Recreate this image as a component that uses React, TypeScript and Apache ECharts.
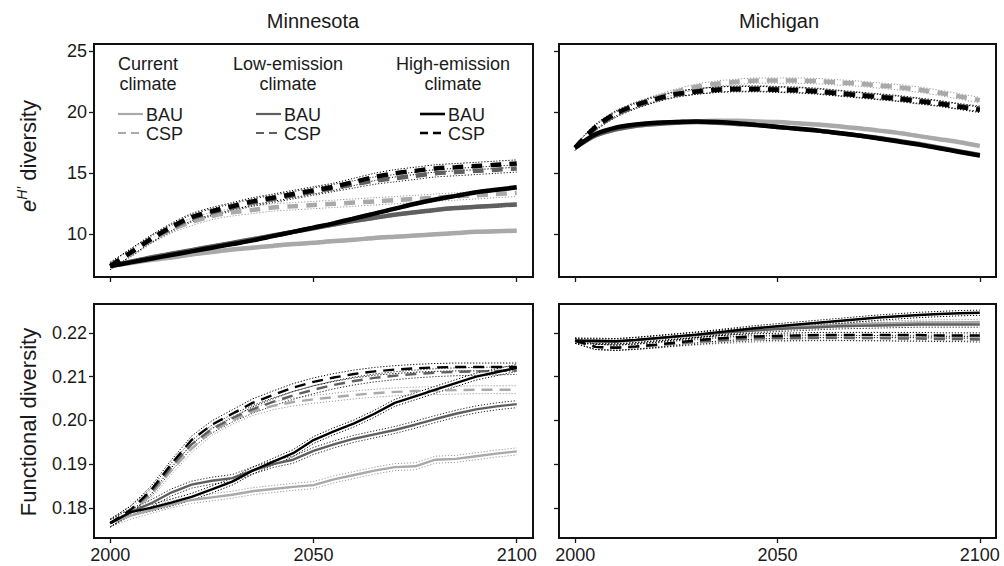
import React, { useEffect, useRef } from "react";
import * as echarts from "echarts";

// ---------- data ----------
const years = [2000, 2005, 2010, 2015, 2020, 2025, 2030, 2035, 2040, 2045, 2050, 2055, 2060, 2065, 2070, 2075, 2080, 2085, 2090, 2095, 2100];
const xTicks = [2000, 2050, 2100];
const shannonTicks = [10, 15, 20, 25];
const functionalTicks = [0.18, 0.19, 0.2, 0.21, 0.22];

// Minnesota, e^H' diversity
const mnShCurBAU = [7.4, 7.65, 7.9, 8.1, 8.35, 8.55, 8.75, 8.9, 9.05, 9.2, 9.3, 9.45, 9.55, 9.7, 9.8, 9.9, 10.0, 10.1, 10.2, 10.25, 10.3];
const mnShCurCSP = [7.4, 8.4, 9.5, 10.4, 11.0, 11.5, 11.8, 12.0, 12.2, 12.3, 12.4, 12.5, 12.6, 12.7, 12.8, 12.9, 13.0, 13.1, 13.2, 13.3, 13.4];
const mnShLowBAU = [7.4, 7.75, 8.1, 8.4, 8.7, 9.0, 9.3, 9.6, 9.9, 10.2, 10.5, 10.8, 11.1, 11.35, 11.6, 11.8, 12.0, 12.15, 12.25, 12.35, 12.45];
const mnShLowCSP = [7.4, 8.5, 9.6, 10.5, 11.3, 11.8, 12.2, 12.6, 12.9, 13.2, 13.5, 13.8, 14.1, 14.4, 14.6, 14.8, 15.0, 15.1, 15.2, 15.3, 15.4];
const mnShHighBAU = [7.4, 7.7, 8.0, 8.3, 8.6, 8.9, 9.2, 9.5, 9.85, 10.2, 10.55, 10.9, 11.3, 11.7, 12.1, 12.5, 12.85, 13.15, 13.45, 13.65, 13.85];
const mnShHighCSP = [7.4, 8.5, 9.6, 10.6, 11.4, 11.9, 12.3, 12.7, 13.0, 13.3, 13.6, 13.9, 14.3, 14.7, 15.0, 15.2, 15.4, 15.5, 15.6, 15.7, 15.8];

// Michigan, e^H' diversity
const miShCurBAU = [17.1, 18.1, 18.6, 18.9, 19.05, 19.2, 19.25, 19.3, 19.3, 19.25, 19.2, 19.1, 19.0, 18.85, 18.7, 18.5, 18.3, 18.05, 17.8, 17.55, 17.25];
const miShCurCSP = [17.1, 18.7, 19.8, 20.6, 21.2, 21.7, 22.1, 22.35, 22.5, 22.6, 22.6, 22.6, 22.55, 22.45, 22.35, 22.2, 22.05, 21.85, 21.6, 21.3, 21.0];
const miShLowBAU = [17.1, 18.1, 18.6, 18.9, 19.05, 19.15, 19.2, 19.15, 19.05, 18.95, 18.8, 18.65, 18.5, 18.3, 18.1, 17.9, 17.65, 17.4, 17.1, 16.8, 16.5];
const miShLowCSP = [17.1, 18.7, 19.8, 20.5, 21.05, 21.45, 21.7, 21.85, 21.95, 21.95, 21.9, 21.85, 21.75, 21.6, 21.45, 21.3, 21.15, 20.95, 20.75, 20.5, 20.3];
const miShHighBAU = [17.1, 18.2, 18.75, 19.0, 19.15, 19.2, 19.25, 19.2, 19.1, 18.95, 18.8, 18.65, 18.5, 18.3, 18.1, 17.85, 17.6, 17.35, 17.05, 16.75, 16.45];
const miShHighCSP = [17.1, 18.8, 19.9, 20.6, 21.1, 21.5, 21.7, 21.85, 21.9, 21.9, 21.85, 21.8, 21.7, 21.55, 21.4, 21.25, 21.1, 20.9, 20.7, 20.45, 20.2];

// Minnesota, functional diversity
const mnFdCurBAU = [0.1765, 0.1782, 0.1795, 0.1808, 0.1818, 0.1824, 0.183, 0.1838, 0.1843, 0.1848, 0.1852, 0.1865, 0.1875, 0.1885, 0.1893, 0.1895, 0.191, 0.1912, 0.1918, 0.1924, 0.1929];
const mnFdCurCSP = [0.1765, 0.179, 0.183, 0.1885, 0.1935, 0.1975, 0.2, 0.202, 0.2033, 0.2042, 0.2048, 0.2053, 0.2058, 0.2062, 0.2065, 0.2067, 0.2068, 0.2069, 0.207, 0.207, 0.207];
const mnFdLowBAU = [0.1765, 0.179, 0.181, 0.1835, 0.1853, 0.1862, 0.1868, 0.1885, 0.19, 0.191, 0.193, 0.1945, 0.1958, 0.1968, 0.1978, 0.199, 0.2003, 0.2015, 0.2025, 0.2032, 0.2037];
const mnFdLowCSP = [0.1765, 0.1795, 0.1835, 0.1893, 0.1945, 0.198, 0.2005, 0.2025, 0.2042, 0.2057, 0.207, 0.2081, 0.209, 0.2097, 0.2102, 0.2106, 0.2109, 0.2111, 0.2112, 0.2113, 0.2114];
const mnFdHighBAU = [0.1765, 0.179, 0.18, 0.1812, 0.1825, 0.1842, 0.186, 0.1885, 0.1905, 0.1925, 0.1955, 0.1975, 0.1993, 0.2015, 0.204, 0.2055, 0.207, 0.2085, 0.21, 0.211, 0.212];
const mnFdHighCSP = [0.1765, 0.1795, 0.184, 0.19, 0.1955, 0.199, 0.2015, 0.204, 0.2058, 0.2075, 0.2088, 0.2098, 0.2106, 0.2112, 0.2116, 0.2119, 0.2121, 0.2122, 0.2122, 0.2122, 0.2122];

// Michigan, functional diversity
const miFdCurBAU = [0.2182, 0.2181, 0.2181, 0.2184, 0.2188, 0.2192, 0.2196, 0.22, 0.2204, 0.2208, 0.2211, 0.2214, 0.2216, 0.2218, 0.222, 0.2221, 0.2222, 0.2223, 0.2224, 0.2224, 0.2225];
const miFdCurCSP = [0.2182, 0.2168, 0.2166, 0.2168, 0.2171, 0.2175, 0.2178, 0.2181, 0.2183, 0.2185, 0.2186, 0.2187, 0.2188, 0.2188, 0.2188, 0.2188, 0.2189, 0.2189, 0.2189, 0.2189, 0.2189];
const miFdLowBAU = [0.2182, 0.218, 0.218, 0.2183, 0.2187, 0.2191, 0.2195, 0.2199, 0.2203, 0.2206, 0.2209, 0.2211, 0.2213, 0.2215, 0.2216, 0.2217, 0.2218, 0.2219, 0.2219, 0.2219, 0.2219];
const miFdLowCSP = [0.2182, 0.2168, 0.2166, 0.2168, 0.2172, 0.2176, 0.218, 0.2183, 0.2186, 0.2188, 0.2189, 0.2189, 0.2189, 0.2189, 0.2188, 0.2188, 0.2187, 0.2187, 0.2186, 0.2186, 0.2185];
const miFdHighBAU = [0.2182, 0.2182, 0.2181, 0.2184, 0.2188, 0.2192, 0.2196, 0.2201, 0.2206, 0.2211, 0.2215, 0.2219, 0.2223, 0.2227, 0.2231, 0.2235, 0.2238, 0.2241, 0.2243, 0.2245, 0.2246];
const miFdHighCSP = [0.2182, 0.2168, 0.2166, 0.2169, 0.2173, 0.2178, 0.2183, 0.2187, 0.219, 0.2192, 0.2193, 0.2194, 0.2195, 0.2195, 0.2195, 0.2195, 0.2195, 0.2195, 0.2194, 0.2194, 0.2194];

// half-widths of the dotted confidence envelopes (BAU, CSP)
const ciMnSh = [0.12, 0.3];
const ciMiSh = [0.1, 0.22];
const ciMnFd = [0.0008, 0.0009];
const ciMiFd = [0.0006, 0.0006];

const regions = ["Minnesota", "Michigan"];
const climates = ["Current climate", "Low-emission climate", "High-emission climate"];
const climateHeaders = ["Current\nclimate", "Low-emission\nclimate", "High-emission\nclimate"];
const policies = ["BAU", "CSP"];

// ---------- styles ----------
const FONT = "'Liberation Sans', Arial, Helvetica, sans-serif";
const climateColors = ["#a9a9a9", "#5f5f5f", "#000000"];
const bandColors = ["#9a9a9a", "#222222", "#000000"];
const TXT = "#1a1a1a";

type PanelData = { bau: number[][]; csp: number[][]; ci: number[] };

const panels: PanelData[] = [
  { bau: [mnShCurBAU, mnShLowBAU, mnShHighBAU], csp: [mnShCurCSP, mnShLowCSP, mnShHighCSP], ci: ciMnSh },
  { bau: [miShCurBAU, miShLowBAU, miShHighBAU], csp: [miShCurCSP, miShLowCSP, miShHighCSP], ci: ciMiSh },
  { bau: [mnFdCurBAU, mnFdLowBAU, mnFdHighBAU], csp: [mnFdCurCSP, mnFdLowCSP, mnFdHighCSP], ci: ciMnFd },
  { bau: [miFdCurBAU, miFdLowBAU, miFdHighBAU], csp: [miFdCurCSP, miFdLowCSP, miFdHighCSP], ci: ciMiFd },
];

const gridRects = [
  { left: 94, top: 44, width: 439, height: 233 },
  { left: 559, top: 44, width: 437, height: 233 },
  { left: 94, top: 304, width: 439, height: 234 },
  { left: 559, top: 304, width: 437, height: 234 },
];

function buildSeries() {
  const out: any[] = [];
  panels.forEach((p, gi) => {
    const top = gi < 2;
    const w = top ? 4.5 : 2.4;
    const smooth = top ? 0.3 : false;
    [0, 1].forEach((pi) => {
      const arr = pi === 0 ? p.bau : p.csp;
      const half = p.ci[pi];
      arr.forEach((vals, ci) => {
        [1, -1].forEach((sgn) => {
          out.push({
            type: "line",
            name: `${regions[gi % 2]} ${climates[ci]} ${policies[pi]} ${sgn > 0 ? "upper" : "lower"}`,
            xAxisIndex: gi,
            yAxisIndex: gi,
            data: years.map((y, i) => [y, vals[i] + sgn * half]),
            showSymbol: false,
            symbol: "none",
            smooth,
            silent: true,
            lineStyle: { color: bandColors[ci], width: 1, type: [1.2, 1.8] },
            z: 2,
          });
        });
      });
    });
    [0, 1, 2].forEach((ci) => {
      [0, 1].forEach((pi) => {
        const vals = pi === 0 ? p.bau[ci] : p.csp[ci];
        out.push({
          type: "line",
          name: `${regions[gi % 2]} ${climates[ci]} ${policies[pi]}`,
          xAxisIndex: gi,
          yAxisIndex: gi,
          data: years.map((y, i) => [y, vals[i]]),
          showSymbol: false,
          symbol: "none",
          smooth,
          lineStyle: {
            color: climateColors[ci],
            width: w,
            type: pi === 0 ? "solid" : top ? [11, 8] : [11, 7],
          },
          z: 3 + ci,
        });
      });
    });
  });
  return out;
}

function buildLegend() {
  const g: any[] = [];
  const headerX = [148, 288, 453];
  const lineX = [118, 256, 420];
  climateHeaders.forEach((h, i) => {
    g.push({
      type: "text",
      x: headerX[i],
      y: 54,
      style: { text: h, font: `18px ${FONT}`, fill: TXT, align: "center", verticalAlign: "top", lineHeight: 20 },
      z: 10,
    });
    policies.forEach((pol, pi) => {
      const y = 114 + pi * 19;
      g.push({
        type: "line",
        shape: { x1: lineX[i], y1: y, x2: lineX[i] + 25, y2: y },
        style: {
          stroke: climateColors[i],
          lineWidth: i === 2 ? 2.6 : 2.2,
          lineDash: pi === 0 ? null : [8, 5],
        },
        z: 10,
      });
      g.push({
        type: "text",
        x: lineX[i] + 28,
        y: y + 1,
        style: { text: pol, font: `18px ${FONT}`, fill: TXT, align: "left", verticalAlign: "middle" },
        z: 10,
      });
    });
  });
  return g;
}

export default function App() {
  const ref = useRef<HTMLDivElement>(null);
  useEffect(() => {
    if (!ref.current) return;
    const chart = echarts.init(ref.current, null, { renderer: "svg" });
    const axisTickStyle = { show: true, length: 5, lineStyle: { color: TXT, width: 1.3 } };
    const option: any = {
      animation: false,
      backgroundColor: "#ffffff",
      grid: gridRects.map((r) => ({ ...r, show: true, borderColor: "#111", borderWidth: 2, backgroundColor: "transparent", containLabel: false })),
      xAxis: gridRects.map((_, i) => ({
        type: "value",
        gridIndex: i,
        min: 1996,
        max: 2104,
        splitLine: { show: false },
        axisLine: { show: false },
        axisTick: { ...axisTickStyle, customValues: xTicks },
        axisLabel: {
          show: i >= 2,
          customValues: xTicks,
          fontSize: 18,
          color: TXT,
          fontFamily: FONT,
          margin: 8,
          formatter: (v: number) => String(v),
        },
      })),
      yAxis: gridRects.map((_, i) => {
        const top = i < 2;
        return {
          type: "value",
          gridIndex: i,
          min: top ? 6.5 : 0.1731,
          max: top ? 25.6 : 0.2266,
          splitLine: { show: false },
          axisLine: { show: false },
          axisTick: { ...axisTickStyle, customValues: top ? shannonTicks : functionalTicks },
          axisLabel: {
            show: i % 2 === 0,
            customValues: top ? shannonTicks : functionalTicks,
            fontSize: 18,
            color: TXT,
            fontFamily: FONT,
            margin: 7,
            formatter: (v: number) => (top ? String(v) : v.toFixed(2)),
          },
        };
      }),
      series: buildSeries(),
      graphic: [
        {
          type: "text",
          x: 313,
          y: 21,
          style: { text: regions[0], font: `20px ${FONT}`, fill: TXT, align: "center", verticalAlign: "middle" },
        },
        {
          type: "text",
          x: 779,
          y: 21,
          style: { text: regions[1], font: `20px ${FONT}`, fill: TXT, align: "center", verticalAlign: "middle" },
        },
        {
          type: "text",
          x: 28,
          y: 156,
          rotation: Math.PI / 2,
          style: {
            text: "{e|e}{s|H′}{n| diversity}",
            align: "center",
            verticalAlign: "middle",
            fill: TXT,
            rich: {
              e: { fontFamily: FONT, fontSize: 22, fontStyle: "italic", fill: TXT },
              s: { fontFamily: FONT, fontSize: 14, fontStyle: "italic", fill: TXT, padding: [0, 0, 12, 0] },
              n: { fontFamily: FONT, fontSize: 22, fill: TXT },
            },
          },
        },
        {
          type: "text",
          x: 28,
          y: 422,
          rotation: Math.PI / 2,
          style: { text: "Functional diversity", font: `22px ${FONT}`, fill: TXT, align: "center", verticalAlign: "middle" },
        },
        ...buildLegend(),
      ],
    };
    chart.setOption(option);
    return () => chart.dispose();
  }, []);
  return <div ref={ref} style={{ position: "fixed", left: 0, top: 0, width: 1004, height: 566 }} />;
}
